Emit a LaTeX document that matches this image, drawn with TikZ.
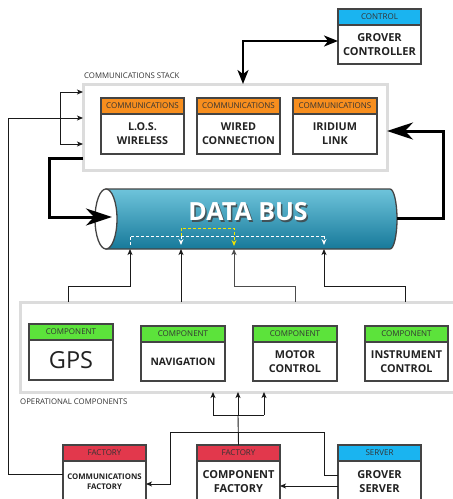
\documentclass[tikz,border=0pt]{standalone}
\usepackage{fontspec}
\setmainfont{Open Sans}
\usetikzlibrary{arrows.meta}
\definecolor{boxline}{HTML}{444444}
\definecolor{contgray}{HTML}{DCDCDC}
\definecolor{linedark}{HTML}{1A1A1A}
\definecolor{hdrtext}{HTML}{333333}
\definecolor{bodytext}{HTML}{222222}
\definecolor{corange}{HTML}{F78E1E}
\definecolor{cgreen}{HTML}{5CE33B}
\definecolor{cred}{HTML}{E2384C}
\definecolor{cblue}{HTML}{1AB4F0}
\definecolor{bustop}{HTML}{6EC4DB}
\definecolor{busbot}{HTML}{17799A}
\definecolor{busline}{HTML}{444444}
\definecolor{cyellow}{HTML}{F2E500}
\newcommand\mkbox[9]{%
  \node[hdr, fill=#6, minimum width=#4] (#1h) at (#2,#3) {#7};
  \node[bodyb, minimum width=#4, minimum height=#5, #9] (#1) at (#1h.south west) {#8};
}
\begin{document}
\begin{tikzpicture}[x=1pt,y=-1pt,
  hdr/.style={draw=boxline, line width=1.6pt, anchor=north west, outer sep=0pt, inner sep=0pt, minimum height=16pt, font=\fontsize{8}{9}\selectfont, text=hdrtext},
  bodyb/.style={draw=boxline, line width=1.6pt, fill=white, anchor=north west, outer sep=0pt, inner sep=1pt, align=center, font=\bfseries\fontsize{10.8}{14}\selectfont, text=bodytext},
  container/.style={draw=contgray, line width=3pt, anchor=north west, inner sep=0pt, outer sep=0pt},
  lbl/.style={anchor=west, inner sep=0pt, font=\fontsize{7.8}{8}\selectfont, text=hdrtext},
  thin/.style={line width=0.9pt, draw=linedark},
  thinarr/.style={thin, -{Stealth[length=6pt, width=5pt, inset=1.5pt]}},
  heavy/.style={line width=3pt, draw=black, -{Stealth[length=26pt, width=17pt, inset=8pt]}},
  ctrlarr/.style={line width=2pt, draw=black, {Stealth[length=14pt, width=11pt, inset=4pt]}-{Stealth[length=14pt, width=11pt, inset=4pt]}},
  wdash/.style={draw=white, line width=0.9pt, dash pattern=on 3pt off 2pt},
  ydash/.style={draw=cyellow, line width=0.9pt, dash pattern=on 3pt off 2pt},
]
\clip (0,0) rectangle (453,499);
\fill[white] (0,0) rectangle (453,499);

% containers
\node[container, minimum width=304pt, minimum height=86pt] (stack) at (83,84) {};
\node[lbl] (stacklbl) at (84,76) {COMMUNICATIONS STACK};
\node[container, minimum width=450pt, minimum height=90pt] (opc) at (20,302) {};
\node[lbl] (opclbl) at (20,402) {OPERATIONAL COMPONENTS};

% controller
\mkbox{ctrl}{338}{9}{83pt}{39pt}{cblue}{CONTROL}{GROVER\\CONTROLLER}{font=\bfseries\fontsize{11}{14}\selectfont}

% communications
\mkbox{los}{101}{98}{83pt}{40pt}{corange}{COMMUNICATIONS}{L.O.S.\\WIRELESS}{}
\mkbox{wired}{197}{98}{83pt}{40pt}{corange}{COMMUNICATIONS}{WIRED\\CONNECTION}{}
\mkbox{iri}{293}{98}{84pt}{40pt}{corange}{COMMUNICATIONS}{IRIDIUM\\LINK}{}

% components
\mkbox{gps}{29}{324}{84pt}{40pt}{cgreen}{COMPONENT}{GPS}{font=\fontsize{23.5}{26}\selectfont}
\mkbox{nav}{141}{326}{84pt}{39pt}{cgreen}{COMPONENT}{NAVIGATION}{font=\bfseries\fontsize{10.3}{14}\selectfont}
\mkbox{motor}{253}{326}{84pt}{39pt}{cgreen}{COMPONENT}{MOTOR\\CONTROL}{}
\mkbox{instr}{365}{326}{83pt}{39pt}{cgreen}{COMPONENT}{INSTRUMENT\\CONTROL}{}

% factories
\mkbox{cfac}{63}{445}{83pt}{42pt}{cred}{FACTORY}{COMMUNICATIONS\\FACTORY}{font=\bfseries\fontsize{7.8}{10}\selectfont}
\mkbox{compfac}{197}{445}{83pt}{42pt}{cred}{FACTORY}{COMPONENT\\FACTORY}{font=\bfseries\fontsize{11}{14}\selectfont}
\mkbox{server}{338}{445}{83pt}{42pt}{cblue}{SERVER}{GROVER\\SERVER}{font=\bfseries\fontsize{11}{14}\selectfont}

% data bus
\path[draw=busline, line width=1.3pt, top color=bustop, bottom color=busbot]
  (106,189) -- (390,189) arc[start angle=90, end angle=-90, x radius=7pt, y radius=30pt] -- (106,249) -- cycle;
\draw[draw=busline, line width=1.3pt, fill=white] (106,219) ellipse [x radius=11pt, y radius=30pt];
\node[minimum width=302pt, minimum height=60pt, inner sep=0pt, outer sep=0pt] (bus) at (246,219) {};
\node[font=\bfseries\fontsize{25}{28}\selectfont, text=black!75, opacity=0.8] (busshadow) at (249.5,213.5) {DATA BUS};
\node[font=\bfseries\fontsize{25}{28}\selectfont, text=white] (bustext) at (248,212) {DATA BUS};
\coordinate (busin) at (112,217);
\coordinate (busout) at (397,218);

% dashed flows inside the bus
\draw[wdash] (130,245) -- (130,236) -- (324,236);
\draw[wdash, -{Stealth[length=6pt, width=5pt]}] (181,236) -- (181,245);
\draw[wdash, -{Stealth[length=6pt, width=5pt]}] (324,236) -- (324,245);
\draw[ydash, -{Stealth[length=6pt, width=5pt]}] (181,236) -- (181,228) -- (234,228) -- (234,246);

% controller <-> stack
\draw[ctrlarr] (stack.north -| 243,0) -- (243,41) -- (ctrlh.west |- 0,41);

% heavy loop stack -> bus -> stack
\draw[heavy] (stack.west |- 0,158) -- (49,158) -- (49,217) -- (busin);
\draw[heavy] (busout) -- (443,218) -- (443,131) -- (stack.east |- 0,131);

% left feed into stack
\draw[thinarr] (cfac.west |- 0,474) -- (8,474) -- (8,118) -- (stack.west |- 0,118);
\draw[thin] (60,92) -- (60,144);
\draw[thinarr] (60,92) -- (stack.west |- 0,92);
\draw[thinarr] (60,144) -- (stack.west |- 0,144);

% components -> bus
\draw[thinarr] (opc.north -| 68,0) -- (68,286) -- (130,286) -- (bus.south -| 130,0);
\draw[thinarr] (opc.north -| 181,0) -- (bus.south -| 181,0);
\draw[thinarr, draw=black!70] (opc.north -| 295,0) -- (295,286) -- (234,286) -- (bus.south -| 234,0);
\draw[thinarr] (opc.north -| 405,0) -- (405,286) -- (324,286) -- (bus.south -| 324,0);

% factory -> components
\draw[thin] (compfach.north) -- (238,415);
\draw[thin] (213,415) -- (264,415);
\draw[thinarr] (213,415) -- (opc.south -| 213,0);
\draw[thinarr] (238,415) -- (opc.south -| 238,0);
\draw[thinarr] (264,415) -- (opc.south -| 264,0);

% server -> factories
\draw[thinarr] (server.west |- 0,475) -- (324,475) -- (324,432) -- (170,432) -- (170,484) -- (cfac.east |- 0,484);
\draw[thinarr] (server.west |- 0,486) -- (compfac.east |- 0,486);
\end{tikzpicture}
\end{document}
